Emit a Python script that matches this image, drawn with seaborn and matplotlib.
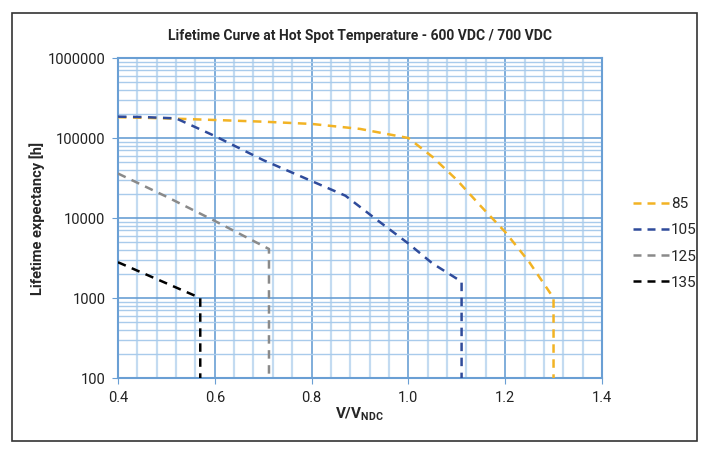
import numpy as np
import pandas as pd
import matplotlib
matplotlib.use("Agg")
import matplotlib.pyplot as plt
from matplotlib.ticker import MultipleLocator, LogLocator, FixedLocator, NullFormatter, FuncFormatter
from matplotlib.lines import Line2D
from matplotlib.patches import Rectangle
import seaborn as sns

# Lifetime curves
temps = ["85", "105", "125", "135"]
colors = ["#F2B324", "#2F4B9B", "#8A8A8A", "#000000"]

v_85 = [0.4, 0.5, 0.6, 0.7, 0.8, 0.9, 1.0, 1.05, 1.1, 1.15, 1.2, 1.25, 1.3, 1.3]
h_85 = [182000, 176000, 168000, 160000, 150000, 130000, 100000, 58000, 30000, 14000, 6700, 2800, 1000, 100]

v_105 = [0.4, 0.45, 0.52, 0.6, 0.7, 0.8, 0.87, 0.93, 1.0, 1.05, 1.11, 1.11]
h_105 = [185000, 183000, 176000, 106000, 53000, 29000, 19000, 10000, 4800, 2700, 1600, 100]

v_125 = [0.4, 0.5, 0.6, 0.712, 0.712]
h_125 = [36000, 18500, 9200, 4100, 100]

v_135 = [0.4, 0.57, 0.57]
h_135 = [2800, 1000, 100]

frames = []
for t, v, h in zip(temps, [v_85, v_105, v_125, v_135], [h_85, h_105, h_125, h_135]):
    frames.append(pd.DataFrame({"V": v, "h": h, "T": t}))
df = pd.concat(frames, ignore_index=True)

sns.set_style("white")
plt.rcParams["font.family"] = ["Roboto", "DejaVu Sans"]
plt.rcParams["mathtext.fontset"] = "custom"
plt.rcParams["mathtext.bf"] = "Roboto:bold"
plt.rcParams["mathtext.rm"] = "Roboto"

fig = plt.figure(figsize=(7.09, 4.55), dpi=100)
ax = fig.add_axes([0.1664, 0.1692, 0.6826, 0.7033])

grid_major = "#6A9FD4"
grid_minor = "#A9CBEB"

for t, c in zip(temps, colors):
    sub = df[df["T"] == t]
    sns.lineplot(data=sub, x="V", y="h", sort=False, estimator=None, color=c,
                 lw=1.8, ax=ax, legend=False, zorder=3)
for line in ax.get_lines():
    line.set_dashes((3.4, 2.6))

ax.set_yscale("log")
ax.set_xlim(0.4, 1.4)
ax.set_ylim(100, 1000000)
ax.xaxis.set_major_locator(MultipleLocator(0.2))
ax.xaxis.set_minor_locator(MultipleLocator(0.04))
ax.xaxis.set_major_formatter(FuncFormatter(lambda x, p: f"{x:.1f}"))
ax.yaxis.set_major_locator(FixedLocator([100, 1000, 10000, 100000, 1000000]))
ax.yaxis.set_minor_locator(LogLocator(base=10, subs=np.arange(2, 10)))
ax.yaxis.set_major_formatter(FuncFormatter(lambda y, p: f"{int(round(y))}"))
ax.yaxis.set_minor_formatter(NullFormatter())

ax.grid(which="minor", axis="x", color="#C3DBF1", lw=1.6, zorder=0)
ax.grid(which="minor", axis="y", color=grid_minor, lw=1.0, zorder=0)
ax.grid(which="major", color=grid_major, lw=1.2, zorder=0)
ax.set_axisbelow(True)

for s in ax.spines.values():
    s.set_color(grid_major)
    s.set_linewidth(1.5)

ax.tick_params(axis="both", which="major", length=4, color=grid_major, labelsize=10.5,
               labelcolor="#222222", direction="out", pad=5, left=True, bottom=True)
ax.tick_params(axis="both", which="minor", length=0)

ax.set_xlabel(r"$\mathbf{V/V_{NDC}}$", fontsize=11, labelpad=1)
ax.set_ylabel("Lifetime expectancy [h]", fontsize=10.5, fontweight="bold", labelpad=2)
ax.set_title("Lifetime Curve at Hot Spot Temperature - 600 VDC / 700 VDC",
             fontsize=10, fontweight="bold", pad=13)

handles = [Line2D([0], [0], color=c, lw=1.8, dashes=(3.2, 2.4)) for c in colors]
fig.legend(handles, temps, loc="center left", bbox_to_anchor=(0.873, 0.465),
           frameon=False, fontsize=11, handlelength=2.4, handletextpad=0.1,
           labelspacing=0.8)

fig.patches.append(Rectangle((12 / 709, 14 / 455), 685 / 709, 428 / 455,
                             transform=fig.transFigure, fill=False,
                             edgecolor="#333333", lw=1.2))

fig.savefig("out.png", dpi=100)
